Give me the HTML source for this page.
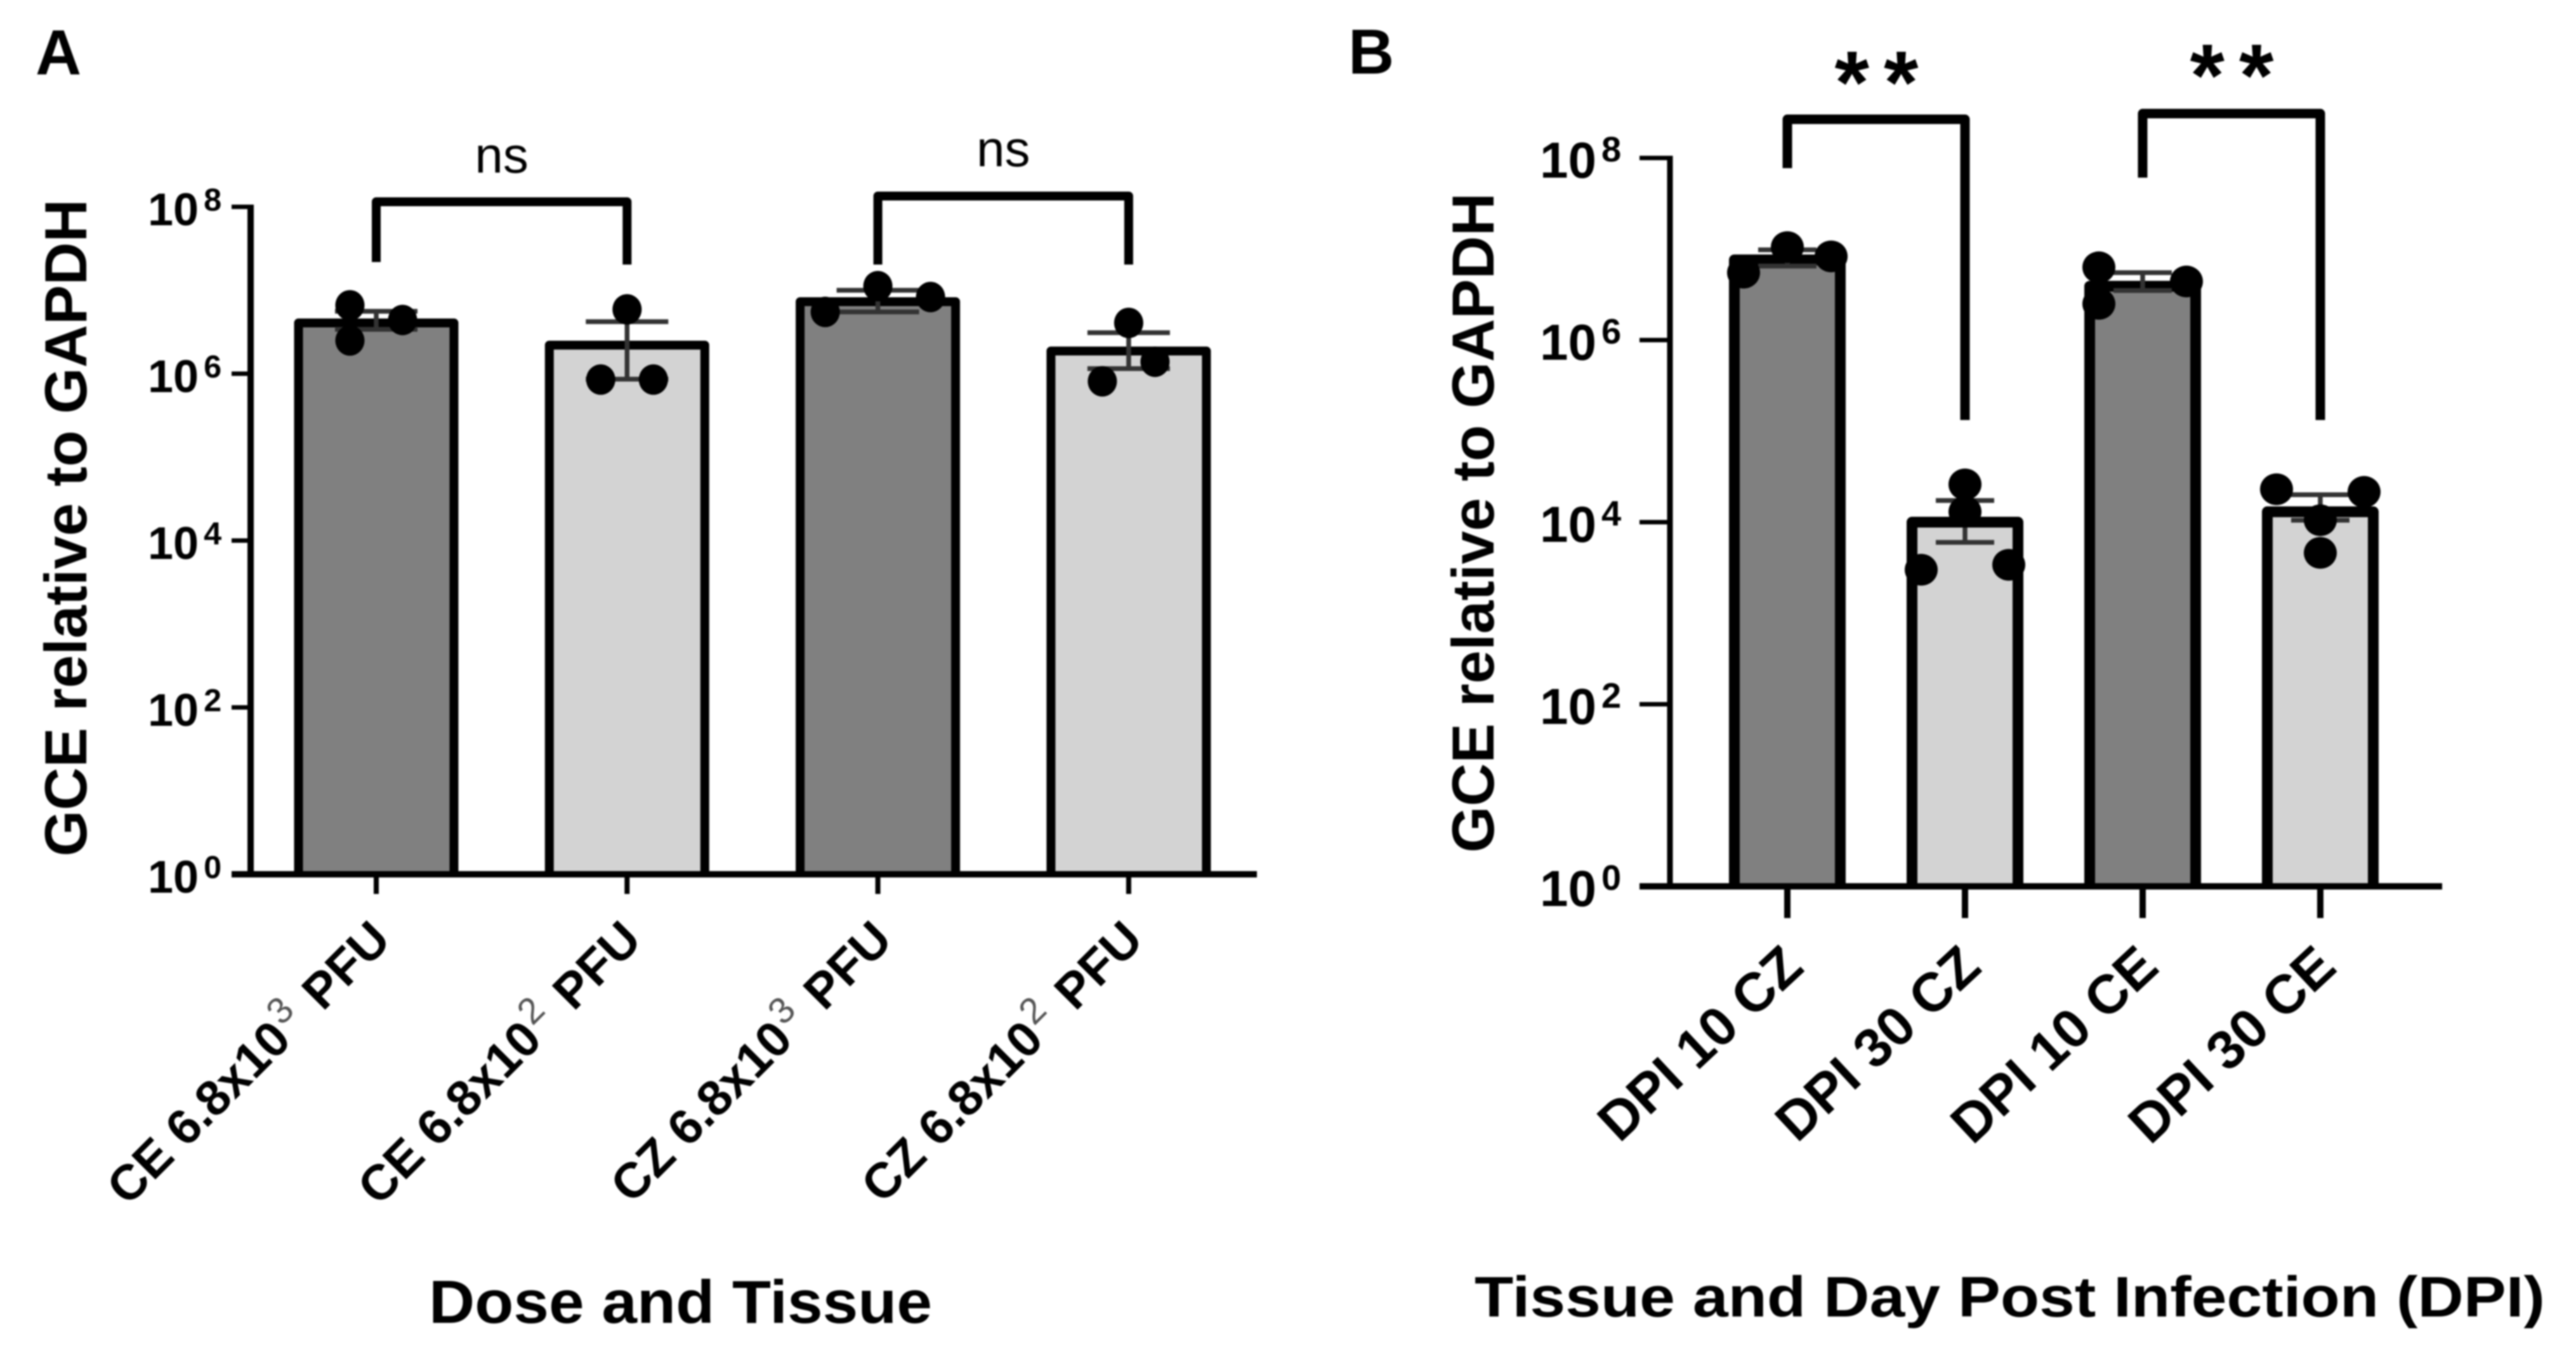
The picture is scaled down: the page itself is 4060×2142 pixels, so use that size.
<!DOCTYPE html>
<html lang="en">
<head>
<meta charset="utf-8">
<title>GCE relative to GAPDH</title>
<style>
html,body{margin:0;padding:0;background:#fff;}
svg{display:block;filter:blur(1.2px);}
text{font-family:"Liberation Sans",sans-serif;fill:#000;white-space:pre;}
</style>
</head>
<body>
<svg id="figure" xmlns="http://www.w3.org/2000/svg" width="4060" height="2142" viewBox="0 0 4060 2142">
  <rect x="0" y="0" width="4060" height="2142" fill="#ffffff"/>
  <text x="56" y="117" font-size="100" font-weight="700">A</text>
  <text x="2125" y="116" font-size="100" font-weight="700">B</text>
  <text transform="translate(136,832) rotate(-90)" text-anchor="middle" font-size="94" font-weight="700" textLength="1036" lengthAdjust="spacingAndGlyphs">GCE relative to GAPDH</text>
  <text transform="translate(2354,824) rotate(-90)" text-anchor="middle" font-size="94" font-weight="700" textLength="1040" lengthAdjust="spacingAndGlyphs">GCE relative to GAPDH</text>
  <text x="676" y="2085" font-size="96" font-weight="700" textLength="793" lengthAdjust="spacingAndGlyphs">Dose and Tissue</text>
  <text x="2324" y="2075" font-size="90" font-weight="700" textLength="1687" lengthAdjust="spacingAndGlyphs">Tissue and Day Post Infection (DPI)</text>
  <g id="panel-a"></g>
  <g id="panel-b"></g>
</svg>
<script>
// ---- Panel A data ----
const categoriesA = ["CE 6.8x10^3^ PFU", "CE 6.8x10^2^ PFU", "CZ 6.8x10^3^ PFU", "CZ 6.8x10^2^ PFU"];
const meansA = [4.06e6, 2.2e6, 7.3e6, 1.87e6];
const errorHighA = [5.6e6, 4.2e6, 1.0e7, 3.1e6];
const errorLowA = [3.4e6, 8.6e5, 5.5e6, 1.15e6];
const pointsA = [[6.6e6, 4.4e6, 2.5e6], [5.9e6, 8.5e5, 8.5e5], [5.5e6, 1.12e7, 8.3e6], [4.06e6, 1.39e6, 8.1e5]];
const swarmColumnsA = [[-1, 1, -1], [0, -1, 1], [-2, 0, 2], [0, 1, -1]];
const significanceA = ["ns", "ns"];

// ---- Panel B data ----
const categoriesB = ["DPI 10 CZ", "DPI 30 CZ", "DPI 10 CE", "DPI 30 CE"];
const meansB = [7.6e6, 1.0e4, 3.9e6, 1.3e4];
const errorHighB = [9.8e6, 1.73e4, 5.5e6, 2.0e4];
const errorLowB = [6.5e6, 6.0e3, 3.5e6, 1.05e4];
const pointsB = [[5.5e6, 1.05e7, 8.3e6], [2.6e4, 1.3e4, 3.0e3, 3.4e3], [6.3e6, 4.4e6, 2.5e6], [2.3e4, 2.15e4, 1.05e4, 4.6e3]];
const swarmColumnsB = [[-1, 0, 1], [0, 0, -1, 1], [-1, 1, -1], [-1, 1, 0, 0]];
const significanceB = ["**", "**"];

// ---- Shared axis data ----
const tickExponents = [0, 2, 4, 6, 8];

const NS = "http://www.w3.org/2000/svg";
function make(parent, tag, attrs) {
  const el = document.createElementNS(NS, tag);
  for (const k in attrs) el.setAttribute(k, attrs[k]);
  parent.appendChild(el);
  return el;
}

function drawPanel(root, o) {
  const yScale = v => o.y0 - Math.log10(v) * o.decade;
  const xScale = i => o.x0 + i * o.step;

  // bars (open at the bottom so the baseline keeps its own weight)
  o.categories.forEach((c, i) => {
    const top = yScale(o.means[i]);
    const left = xScale(i) - o.barHalf;
    const right = xScale(i) + o.barHalf;
    const bar = make(root, "path", {
      d: `M${left} ${o.y0}V${top}H${right}V${o.y0}`,
      fill: i % 2 ? "#d3d3d3" : "#808080", stroke: "#000", "stroke-width": o.barStroke, "stroke-linejoin": "round"
    });
    
    
  });

  // error bars
  o.categories.forEach((c, i) => {
    const cx = xScale(i), hi = yScale(o.errHigh[i]), lo = yScale(o.errLow[i]);
    const err = make(root, "path", {
      d: `M${cx - o.cap} ${hi}H${cx + o.cap}M${cx} ${hi}V${lo}M${cx - o.cap} ${lo}H${cx + o.cap}`,
      fill: "none", stroke: "#333", "stroke-width": 7.5
    });
    
    
  });

  // data points
  o.points.forEach((series, i) => {
    series.forEach((v, j) => {
      const dot = make(root, "ellipse", {
        cx: xScale(i) + o.swarm[i][j] * o.swarmUnit, cy: yScale(v), rx: o.dotRx, ry: o.dotRy, fill: "#000"
      });
      
      
    });
  });

  // axes
  const yAxis = make(root, "line", {
    x1: o.axisX, x2: o.axisX, y1: yScale(1e8) - 3.5, y2: o.y0, stroke: "#000", "stroke-width": o.axisW
  });
  
  
  const xAxis = make(root, "line", {
    x1: o.tickLeft, x2: o.axisEnd, y1: o.y0, y2: o.y0, stroke: "#000", "stroke-width": o.baseW
  });
  
  

  tickExponents.forEach(e => {
    const y = yScale(Math.pow(10, e));
    const tick = make(root, "line", {
      x1: o.tickLeft, x2: o.axisX, y1: y, y2: y, stroke: "#000", "stroke-width": o.tickW
    });
    
    
    const label = make(root, "text", {
      x: o.yLabelX, y: y + o.yLabelDy, "font-size": o.yLabelSize, "font-weight": 700
    });
    
    
    label.appendChild(document.createTextNode("10"));
    const sup = make(label, "tspan", { dx: 8, dy: -o.yLabelSize * 0.32, "font-size": o.yLabelSize * 0.7 });
    sup.textContent = String(e);
  });

  o.categories.forEach((c, i) => {
    const cx = xScale(i);
    const tick = make(root, "line", {
      x1: cx, x2: cx, y1: o.y0, y2: o.y0 + o.xTickLen, stroke: "#000", "stroke-width": o.xTickW
    });
    
    

    const label = make(root, "text", {
      transform: `translate(${cx + o.xLabelDx},${o.xLabelY}) rotate(${o.xLabelAngle})`,
      "text-anchor": "end", "font-size": o.xLabelSize, "font-weight": 700
    });
    
    
    const parts = c.split("^");
    const first = make(label, "tspan", {});
    first.textContent = parts[0];
    if (parts.length > 1) {
      const sup = make(label, "tspan", {
        dx: 4, dy: -30, "font-size": 58, "font-weight": 400, style: "fill:#555"
      });
      sup.textContent = parts[1];
      const tail = make(label, "tspan", { dx: 8, dy: 30 });
      tail.textContent = parts[2];
    }
  });

  // significance brackets
  o.brackets.forEach((b, k) => {
    const xa = xScale(b.from), xb = xScale(b.to);
    const path = make(root, "path", {
      d: `M${xa} ${b.leftEnd}V${b.top}H${xb}V${b.rightEnd}`,
      fill: "none", stroke: "#000", "stroke-width": o.bracketW, "stroke-linejoin": "round"
    });
    
    
    const t = make(root, "text", {
      x: (xa + xb) / 2 + o.sigDx, y: b.labelY, "text-anchor": "middle",
      "font-size": o.sigSize, "font-weight": o.sigWeight, "letter-spacing": o.sigSpacing
    });
    
    
    t.textContent = o.significance[k];
  });
}

drawPanel(document.getElementById("panel-a"), {
  categories: categoriesA, means: meansA, errHigh: errorHighA, errLow: errorLowA,
  points: pointsA, swarm: swarmColumnsA, significance: significanceA,
  y0: 1378, decade: 131.5, x0: 593, step: 395.3,
  barHalf: 122.5, barStroke: 14, cap: 65, swarmUnit: 41.5, dotRx: 23, dotRy: 24,
  axisX: 395, axisW: 10, baseW: 10, axisEnd: 1981, tickLeft: 365, tickW: 7,
  yLabelX: 233, yLabelDy: 29, yLabelSize: 72,
  xTickLen: 31, xTickW: 8, xLabelDx: 26, xLabelY: 1485, xLabelAngle: -45, xLabelSize: 78,
  bracketW: 14, sigDx: 0, sigSize: 80, sigWeight: 400, sigSpacing: 0,
  brackets: [
    { from: 0, to: 1, top: 318, leftEnd: 413, rightEnd: 417, labelY: 272 },
    { from: 2, to: 3, top: 309, leftEnd: 417, rightEnd: 417, labelY: 262 }
  ]
});

drawPanel(document.getElementById("panel-b"), {
  categories: categoriesB, means: meansB, errHigh: errorHighB, errLow: errorLowB,
  points: pointsB, swarm: swarmColumnsB, significance: significanceB,
  y0: 1397, decade: 143.5, x0: 2817, step: 280,
  barHalf: 83.5, barStroke: 17, cap: 46, swarmUnit: 69, dotRx: 26, dotRy: 25,
  axisX: 2632, axisW: 9, baseW: 10, axisEnd: 3849, tickLeft: 2584, tickW: 7,
  yLabelX: 2427, yLabelDy: 31, yLabelSize: 80,
  xTickLen: 50, xTickW: 10, xLabelDx: 29, xLabelY: 1529, xLabelAngle: -43, xLabelSize: 86,
  bracketW: 15, sigDx: 12, sigSize: 140, sigWeight: 700, sigSpacing: 23,
  brackets: [
    { from: 0, to: 1, top: 188, leftEnd: 265, rightEnd: 662, labelY: 178 },
    { from: 2, to: 3, top: 179, leftEnd: 280, rightEnd: 662, labelY: 167 }
  ]
});
</script>
</body>
</html>
